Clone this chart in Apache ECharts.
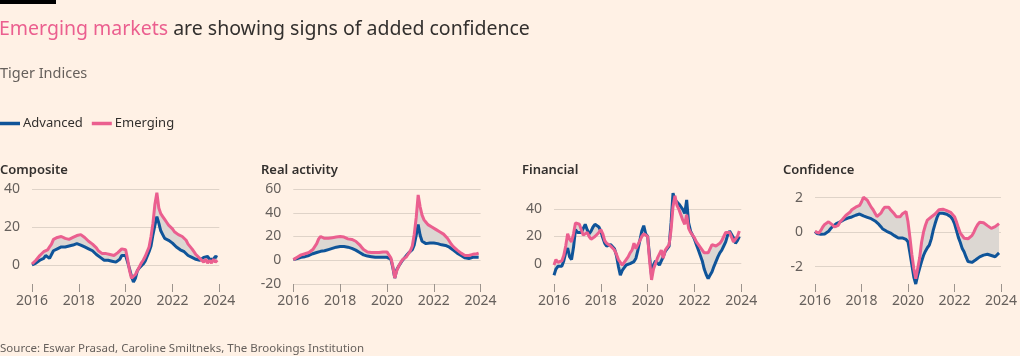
<!DOCTYPE html>
<html><head><meta charset="utf-8">
<script src="https://cdn.jsdelivr.net/npm/echarts@6/dist/echarts.min.js"></script>
<style>html,body{margin:0;padding:0;background:#fff1e5;}#c{width:1020px;height:356px;}</style>
</head><body><div id="c"></div>
<script>
// Monthly observations, Jan 2016 .. Dec 2023
const startYear = 2016;
const xTicks = [2016, 2018, 2020, 2022, 2024];
const panelTitles = ['Composite', 'Real activity', 'Financial', 'Confidence'];

const compositeAdvanced = [0,0.5,1,1.5,2.5,3,3.5,5,4,3.5,5.5,7.5, 8,8.5,9,9.5,9,9.5,9.5,10,10,10.5,11,11.3, 11,10.5,10,9.5,9,8.5,8,7.5,6.5,5.5,5,4, 3,2.5,2.5,2.5,2.5,2,2,1.5,2,3,5,6, 5,1.5,-2,-6,-9,-7,-3,-1.5,-0.5,0.5,2,4.5, 7,10,16,21,25.5,22,18,16,14,13.5,13,12, 11.5,10.5,9.5,9,8,7.5,7,6,5,4.5,4,3.5, 3,3,2.5,3,4,3,4.5,3,4,3,4.5,4];
const compositeEmerging = [0.5,1.5,2.5,3.5,5,6,7,7.5,8,9.5,11,13.5, 14.5,14.5,14,15,14.5,14,14,13.5,14,14.5,15,15.5, 15.5,16,15.2,14.5,13.5,12.5,12,11,10,9,7.5,6.5, 6,5.5,6,6,5.5,5,5,5.5,6.5,7.5,8.5,9, 8,3,-3,-7,-8,-5,-3,-1,1,2.5,4.5,7, 9.5,15,22,32,38,30,27,25.5,24,22.5,21,20, 19,17.5,16.5,16,15.5,15,14.5,13,11,10,8.5,7, 5.5,4.5,3.5,2.5,1.5,3,1,2.5,1,3,1.5,2.5];

const realAdvanced = [0.5,1,1.5,2,2.5,2.5,3,3.5,4,4.5,5.5,6, 6.5,7,7.5,8,8,8.5,9,9.5,10,10.5,11,11.5, 11.5,11.5,11.5,11.5,11,10.5,10,9,8.5,7.5,6.5,5.5, 4.5,4,3.5,3,3,2.5,2.5,2.5,2.5,2.5,2.5,2.5, 2.5,2,1,-6,-15,-8,-5,-2.5,0,2,4,6, 7,9,13,21,30,21,16,14.5,14,14,14.5,14.5, 14.5,14,14,13.5,13,13,12.5,12,11,10,8.5,7.5, 6,5,4,3,2,1.5,1.5,2,2.5,2,2.5,2.5];
const realEmerging = [0.5,1.5,2.5,3.5,4.5,5,5.5,6,6.5,7.5,9,10.5, 14,18,20,19,18.5,18,18.5,18.5,19,19,19.5,20, 20,20,19.5,18.5,18,18,17.5,17,16,14.5,13,11, 9,7.5,7,6.5,6.5,6.5,6.5,6.5,6.5,7,7,7.5, 7,5.5,2,-5,-15,-9,-5,-2,0.5,2,3,5.5, 8,12,22,36,55,45,38,34,32,30,28.5,28, 27,26,25,24,23,22,21,18.5,16,13.5,11.5,10, 8.5,7,6,5,4,3.5,4,4.5,5,5.5,5.5,6];

const finAdvanced = [-8.5,-4,-2,-2.5,-2,2,8,11.5,5,3,12,25, 23,22,23,26,29,25,22,24,27,29,28,27, 24,19,15,13,14,14,13,11,6,-2,-8.5,-5, -3,-1,-1,0,0.5,1.5,4,10,17,24,28,22, 20,5,-9,-1,2,3,-1,-1.5,5,9,10,13, 30,52,47,46,44,42,40,37,47,30,24,21, 18,14,10,6,2,-4,-8,-11,-12,-6,-2,1.5, 5,8,10,13,16,21,24,23,19,15,17,20];
const finEmerging = [-1,3,1,0,2,6,13,22,18,16,22,30, 30,29,25,21,22,23,20,18,19,20,21,23, 25,22,17,15,14,13,12,10,7,3,1,-1, 1,3,5,8,10,15,11,14,17,20,22,23, 20,2,-12,-4,0,4,7,10,4,10,12,14, 25,42,50,43,40,36,32,29,36,26,23,21, 19,16,14,13,10,8,7,8,9,14,14,13, 14,15,17,20,23,23,23,22,16,17,20,24];

const confAdvanced = [0.04,-0.08,-0.12,-0.12,-0.12,-0.1,-0.05,0.05,0.2,0.32,0.43,0.5, 0.55,0.6,0.65,0.72,0.78,0.82,0.86,0.88,0.92,0.98,1.02,1.05, 1.0,0.94,0.9,0.86,0.82,0.78,0.74,0.65,0.55,0.45,0.32,0.18, 0.1,0.05,0.0,-0.05,-0.12,-0.2,-0.26,-0.34,-0.36,-0.33,-0.32,-0.42, -0.55,-1.2,-1.9,-2.6,-3.0,-2.5,-2.1,-1.7,-1.35,-1.1,-0.9,-0.75, -0.4,0.1,0.5,0.85,1.1,1.12,1.1,1.08,1.04,0.98,0.9,0.75, 0.5,0.1,-0.3,-0.6,-0.95,-1.15,-1.45,-1.7,-1.78,-1.75,-1.68,-1.6, -1.5,-1.43,-1.38,-1.33,-1.3,-1.28,-1.3,-1.35,-1.38,-1.42,-1.35,-1.2];
const confEmerging = [0.04,-0.05,-0.05,0.1,0.3,0.45,0.55,0.6,0.52,0.42,0.3,0.22, 0.4,0.6,0.72,0.85,0.98,1.05,1.15,1.3,1.4,1.45,1.5,1.55, 1.75,2.02,2.0,1.85,1.65,1.45,1.3,1.1,0.9,0.85,1.1,1.3, 1.45,1.5,1.45,1.3,1.2,1.05,0.9,0.82,0.9,1.05,1.15,1.2, 0.6,-0.3,-1.3,-2.1,-2.7,-2.1,-1.5,-0.6,0.0,0.4,0.7,0.8, 0.88,0.95,1.05,1.15,1.3,1.36,1.33,1.3,1.25,1.2,1.15,1.08, 0.9,0.6,0.25,-0.05,-0.2,-0.35,-0.4,-0.38,-0.3,-0.2,0.0,0.25, 0.45,0.58,0.6,0.55,0.48,0.38,0.28,0.22,0.25,0.32,0.4,0.5];

const yMin = [-10, -20, -15, -3];
const yMax = [40, 60, 55, 2.5];
const yTicks = [[0,20,40], [-20,0,20,40,60], [0,20,40], [-2,0,2]];

const advancedSets = [compositeAdvanced, realAdvanced, finAdvanced, confAdvanced];
const emergingSets = [compositeEmerging, realEmerging, finEmerging, confEmerging];

const BLUE = '#0f5499', PINK = '#eb5f8f', BAND = '#dcd7d2';
const TXT = '#33302e', SUB = '#66605c';
const FONT = 'Noto Sans';
const gridLefts = [32, 293.3, 554, 815];
const gridW = 187.3;

function pairs(arr) { return arr.map((v, i) => [startYear + i / 12, v]); }

const grids = [], xAxes = [], yAxes = [], series = [];
for (let p = 0; p < 4; p++) {
  grids.push({ left: gridLefts[p], top: 189, width: gridW, height: 95 });
  xAxes.push({
    type: 'value', gridIndex: p, min: 2016, max: 2024, interval: 2,
    axisLine: { show: false, onZero: false },
    axisTick: { show: true, length: 8, lineStyle: { color: '#9c948d', width: 1 } },
    splitLine: { show: false },
    axisLabel: { color: SUB, fontFamily: FONT, fontSize: 14, margin: 10, formatter: v => String(v) }
  });
  yAxes.push({
    type: 'value', gridIndex: p, min: yMin[p], max: yMax[p],
    axisLine: { show: false },
    axisTick: { show: false, customValues: yTicks[p] },
    splitLine: { show: true, lineStyle: { color: '#dfd3c8', width: 1 } },
    axisLabel: { customValues: yTicks[p], color: SUB, fontFamily: FONT, fontSize: 14, margin: 12 }
  });
  const adv = advancedSets[p], emg = emergingSets[p];
  const bandRows = adv.map((v, i) => [startYear + i / 12, v, emg[i]]);
  series.push({
    type: 'custom', xAxisIndex: p, yAxisIndex: p, silent: true, z: 1,
    data: bandRows, encode: { x: 0, y: [1, 2] },
    renderItem: function (params, api) {
      if (params.dataIndex !== 0) return null;
      const top = bandRows.map(r => api.coord([r[0], r[1]]));
      const bot = bandRows.map(r => api.coord([r[0], r[2]])).reverse();
      return { type: 'polygon', shape: { points: top.concat(bot) }, style: { fill: BAND } };
    }
  });
  series.push({
    name: 'Advanced', type: 'line', xAxisIndex: p, yAxisIndex: p, data: pairs(adv),
    symbol: 'none', z: 3, lineStyle: { color: BLUE, width: 3 }, itemStyle: { color: BLUE }
  });
  series.push({
    name: 'Emerging', type: 'line', xAxisIndex: p, yAxisIndex: p, data: pairs(emg),
    symbol: 'none', z: 4, lineStyle: { color: PINK, width: 3 }, itemStyle: { color: PINK }
  });
}

const titles = [
  { text: '{a|Emerging markets} are showing signs of added confidence', left: -1, top: 19,
    textStyle: { fontFamily: FONT, fontSize: 19.5, fontWeight: 'normal', color: TXT,
      rich: { a: { fontFamily: FONT, fontSize: 19.5, color: PINK } } }, padding: 0 },
  { text: 'Tiger Indices', left: 0, top: 66, padding: 0,
    textStyle: { fontFamily: FONT, fontSize: 14.5, fontWeight: 'normal', color: SUB } },
  { text: 'Source: Eswar Prasad, Caroline Smiltneks, The Brookings Institution', left: 0, top: 343, padding: 0,
    textStyle: { fontFamily: FONT, fontSize: 11.5, fontWeight: 'normal', color: SUB } }
];
const titleLefts = [0, 261, 522, 783];
for (let p = 0; p < 4; p++) {
  titles.push({ text: panelTitles[p], left: titleLefts[p], top: 164, padding: 0,
    textStyle: { fontFamily: FONT, fontSize: 13, fontWeight: 600, color: TXT } });
}

const chart = echarts.init(document.getElementById('c'), null, { renderer: 'canvas' });
chart.setOption({
  backgroundColor: '#fff1e5',
  animation: false,
  title: titles,
  legend: {
    left: 0, top: 117, padding: 0, itemGap: 9, itemWidth: 20, itemHeight: 3.5,
    icon: 'rect', data: ['Advanced', 'Emerging'], selectedMode: false,
    textStyle: { fontFamily: FONT, fontSize: 13, color: TXT, padding: [0, 0, 0, -2] }
  },
  graphic: [{ type: 'rect', left: 0, top: 0, shape: { width: 56, height: 4 }, style: { fill: '#000' } }],
  grid: grids, xAxis: xAxes, yAxis: yAxes, series: series
});
</script></body></html>
